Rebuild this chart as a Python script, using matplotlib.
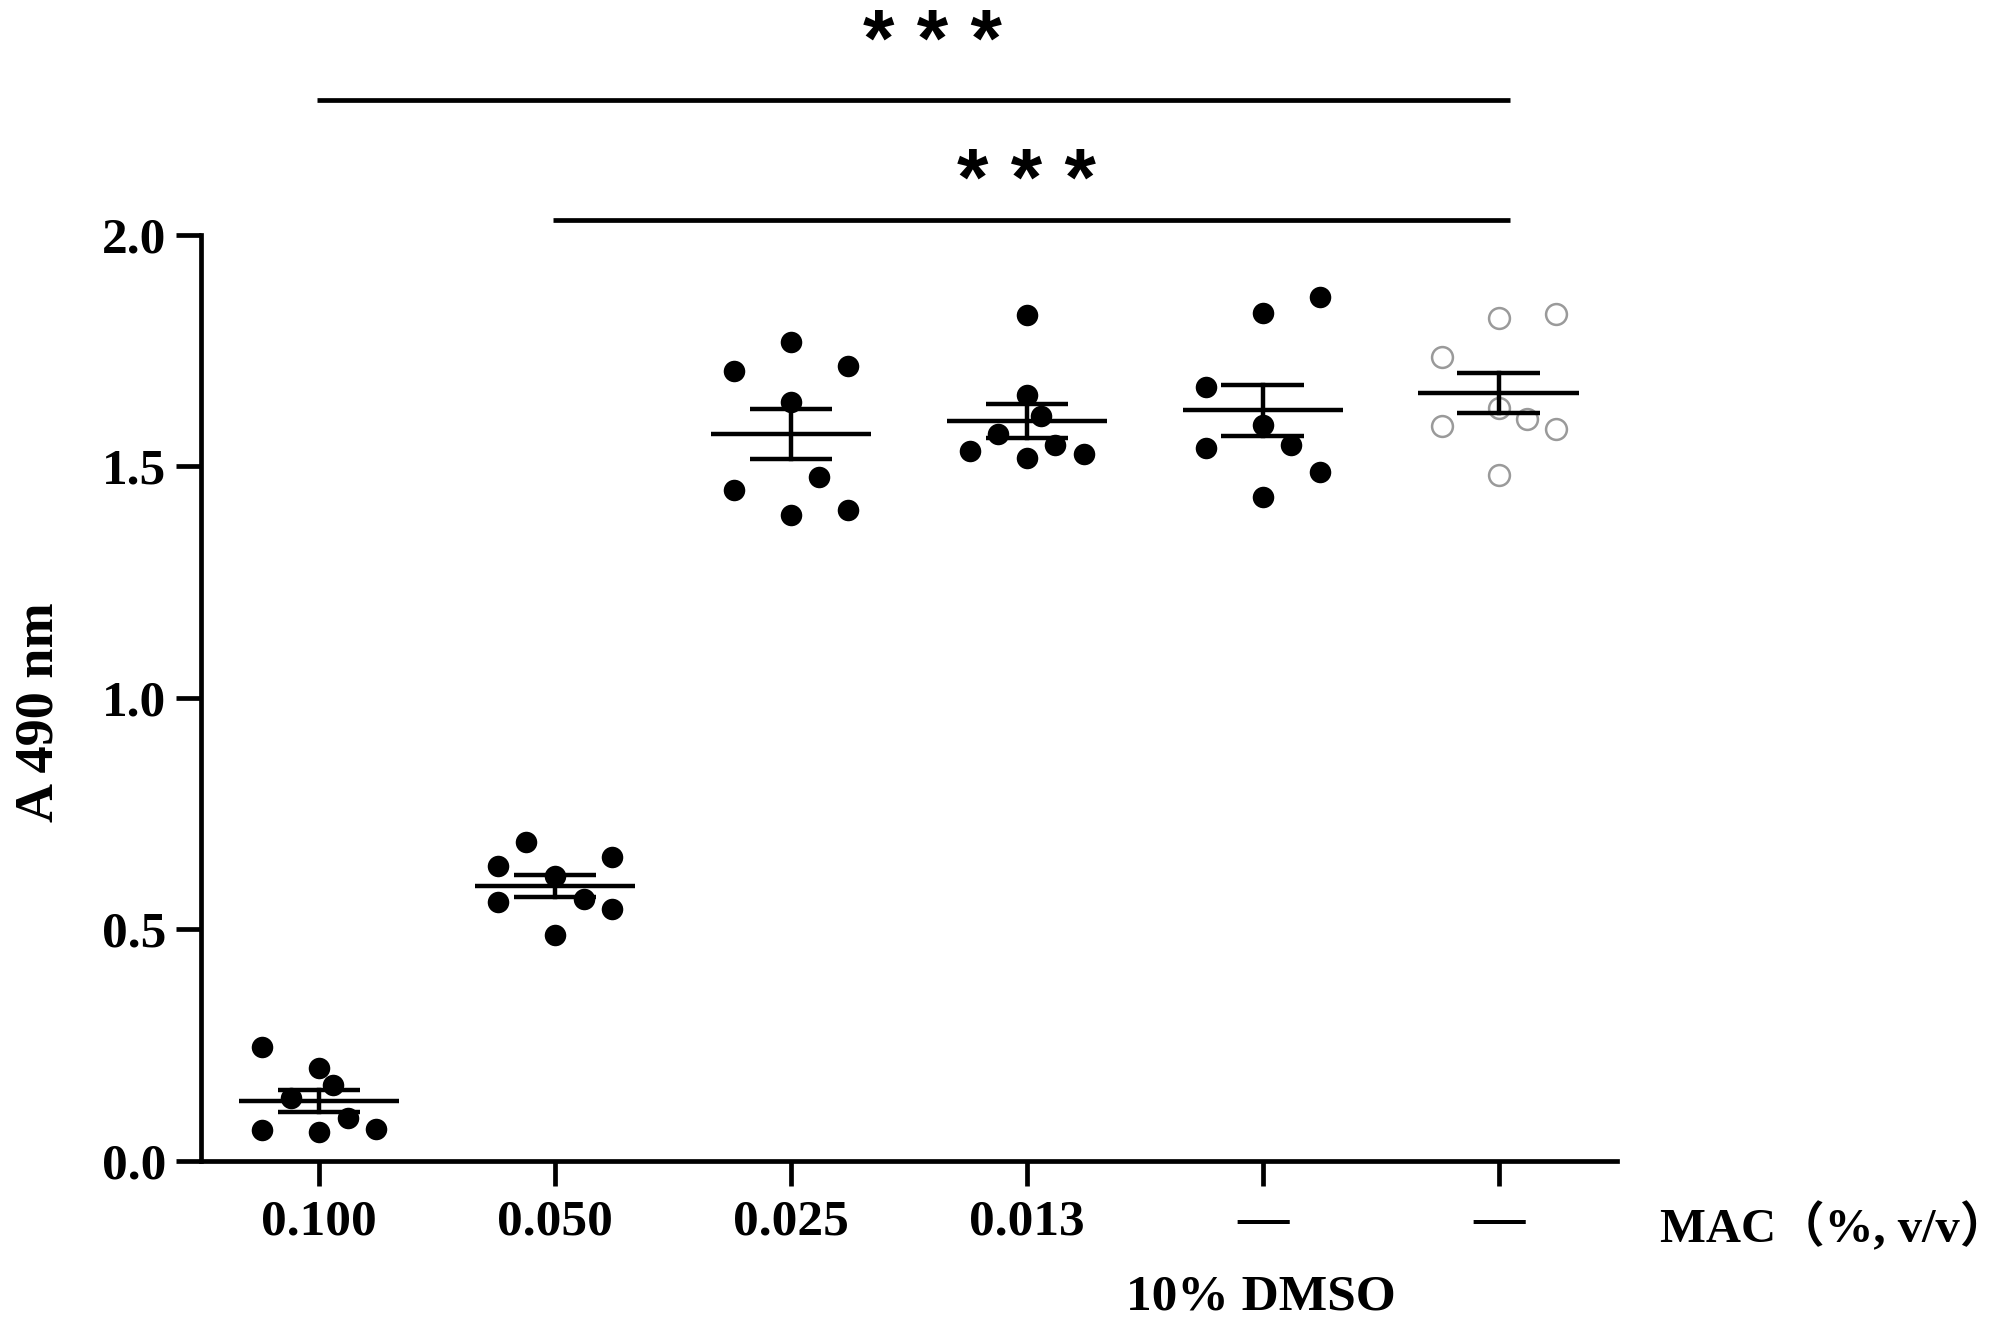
import numpy as np
import matplotlib
matplotlib.use("Agg")
import matplotlib.pyplot as plt

# ---------------- data ----------------
categories = ["0.100", "0.050", "0.025", "0.013", "—", "—"]
g_0100 = [0.245, 0.200, 0.163, 0.135, 0.093, 0.065, 0.062, 0.068]
g_0050 = [0.689, 0.636, 0.656, 0.614, 0.559, 0.565, 0.543, 0.488]
g_0025 = [1.769, 1.705, 1.716, 1.639, 1.449, 1.477, 1.394, 1.405]
g_0013 = [1.826, 1.653, 1.609, 1.570, 1.532, 1.545, 1.518, 1.526]
g_dmso = [1.865, 1.832, 1.672, 1.590, 1.540, 1.545, 1.488, 1.433]
g_ctrl = [1.821, 1.829, 1.736, 1.587, 1.625, 1.603, 1.581, 1.482]
groups = [g_0100, g_0050, g_0025, g_0013, g_dmso, g_ctrl]
# horizontal slot of each point (scatter-dot layout)
slots = [
    [-2, 0, 0.5, -1, 1, -2, 0, 2],
    [-1, -2, 2, 0, -2, 1, 2, 0],
    [0, -2, 2, 0, -2, 1, 0, 2],
    [0, 0, 0.5, -1, -2, 1, 0, 2],
    [2, 0, -2, 0, -2, 1, 2, 0],
    [0, 2, -2, -2, 0, 1, 2, 0],
]
open_marker = [False, False, False, False, False, True]
yticks = [0.0, 0.5, 1.0, 1.5, 2.0]
ytick_labels = ["0.0", "0.5", "1.0", "1.5", "2.0"]
sig_pairs = [(0, 5), (1, 5)]
sig_text = ["* * *", "* * *"]

# ---------------- figure ----------------
fig = plt.figure(figsize=(20.05, 13.34), dpi=100)
ax = fig.add_axes([0.1003, 0.130, 0.706, 0.694])

serif = "Liberation Serif"
slot_w = 0.121
for i, (vals, sl) in enumerate(zip(groups, slots)):
    xs = i + np.array(sl) * slot_w
    if open_marker[i]:
        ax.plot(xs, vals, "o", ms=15, mfc="white", mec="#9a9a9a", mew=1.8,
                linestyle="none", zorder=3)
    else:
        ax.plot(xs, vals, "o", ms=15.5, mfc="black", mec="black", mew=0,
                linestyle="none", zorder=3)
    v = np.array(vals)
    m = v.mean()
    sem = v.std(ddof=1) / np.sqrt(len(v))
    ax.plot([i - 0.34, i + 0.34], [m, m], color="black", lw=3.2, zorder=4,
            solid_capstyle="butt")
    ax.plot([i - 0.175, i + 0.175], [m + sem, m + sem], color="black", lw=3.2,
            zorder=4, solid_capstyle="butt")
    ax.plot([i - 0.175, i + 0.175], [m - sem, m - sem], color="black", lw=3.2,
            zorder=4, solid_capstyle="butt")
    ax.plot([i, i], [m - sem, m + sem], color="black", lw=3.2, zorder=4)

ax.set_xlim(-0.5, 5.5)
ax.set_ylim(0, 2.0)
ax.set_xticks(range(len(categories)))
ax.set_xticklabels(categories)
ax.set_yticks(yticks)
ax.set_yticklabels(ytick_labels)
for s in ["top", "right"]:
    ax.spines[s].set_visible(False)
for s in ["left", "bottom"]:
    ax.spines[s].set_linewidth(3.4)
ax.tick_params(axis="both", length=18, width=3.4, direction="out")
ax.tick_params(axis="y", pad=7)
ax.tick_params(axis="x", pad=10)
for lab in ax.get_xticklabels() + ax.get_yticklabels():
    lab.set_fontfamily(serif)
    lab.set_fontweight("bold")
    lab.set_fontsize(37)

# significance bars
bar_y = [2.292, 2.033]
txt_y = [2.364, 2.064]
txt_x = [2.6, 3.0]
for (a, b), by, ty, tx, t in zip(sig_pairs, bar_y, txt_y, txt_x, sig_text):
    ax.plot([a - 0.01, b + 0.05], [by, by], color="black", lw=3.4,
            clip_on=False, solid_capstyle="butt")
    ax.text(tx, ty, t, ha="center", va="baseline", fontsize=58,
            fontweight="bold", family="Liberation Sans", clip_on=False)

# labels
fig.text(0.0195, 0.466, "A 490 nm", rotation=90, ha="center", va="center",
         fontsize=39, fontweight="bold", family=serif)
fig.text(0.828, 0.080, "MAC（%, v/v）", ha="left", va="center",
         fontsize=35, fontweight="bold", family=[serif, "Noto Sans CJK SC"])
fig.text(0.629, 0.027, "10% DMSO", ha="center", va="center",
         fontsize=37, fontweight="bold", family=serif)

fig.savefig("out.png", dpi=100, facecolor="white")
